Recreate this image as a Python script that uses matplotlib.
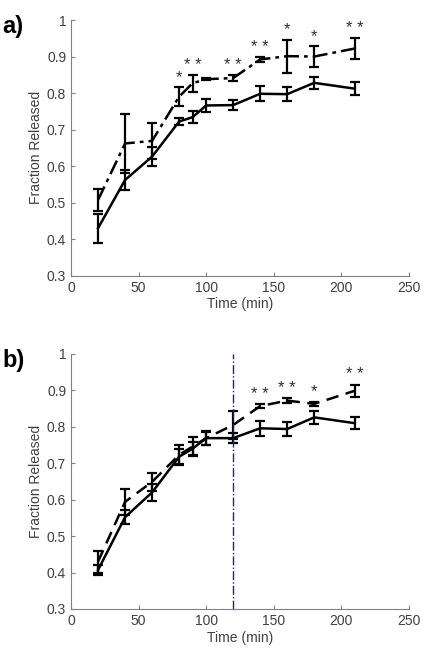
import matplotlib
matplotlib.use('Agg')
import matplotlib.pyplot as plt
import numpy as np

plt.rcParams['font.family'] = ['Liberation Sans', 'DejaVu Sans']

# time points (min)
t = [20, 40, 60, 80, 90, 100, 120, 140, 160, 180, 210]

# panel a
solid_a = [0.430, 0.562, 0.626, 0.722, 0.734, 0.766, 0.767, 0.798, 0.797, 0.828, 0.812]
solid_a_err = [0.040, 0.027, 0.027, 0.010, 0.016, 0.018, 0.013, 0.020, 0.019, 0.017, 0.017]
dash_a = [0.507, 0.662, 0.669, 0.790, 0.827, 0.838, 0.841, 0.892, 0.901, 0.900, 0.922]
dash_a_err = [0.030, 0.081, 0.049, 0.026, 0.023, 0.003, 0.009, 0.006, 0.045, 0.029, 0.028]
stars_a = ['', '', '', '*', '**', '', '**', '**', '*', '*', '**']

# panel b
solid_b = [0.407, 0.552, 0.620, 0.718, 0.740, 0.769, 0.769, 0.796, 0.794, 0.826, 0.810]
solid_b_err = [0.015, 0.020, 0.023, 0.020, 0.018, 0.018, 0.013, 0.020, 0.019, 0.017, 0.017]
dash_b = [0.430, 0.594, 0.649, 0.723, 0.746, 0.769, 0.805, 0.857, 0.872, 0.863, 0.899]
dash_b_err = [0.030, 0.035, 0.025, 0.027, 0.025, 0.020, 0.038, 0.006, 0.006, 0.006, 0.017]
stars_b = ['', '', '', '', '', '', '', '**', '**', '*', '**']

fig = plt.figure(figsize=(4.34, 6.67), dpi=100)
ax_a = fig.add_axes([0.1636, 0.5867, 0.7784, 0.3833])
ax_b = fig.add_axes([0.1636, 0.0870, 0.7784, 0.3823])


def draw_panel(ax, solid, solid_err, dash, dash_err, stars, dash_style):
    ax.errorbar(t, solid, yerr=solid_err, color='black', lw=1.8, elinewidth=1.6,
                capsize=3.5, capthick=1.6)
    eb = ax.errorbar(t, dash, yerr=dash_err, color='black', lw=1.8, elinewidth=1.6,
                     capsize=3.5, capthick=1.6)
    eb[0].set_dashes(dash_style)
    for x, y, e, s in zip(t, dash, dash_err, stars):
        if s:
            ax.text(x, y + e + 0.006, ' '.join(s), ha='center', va='bottom',
                    fontsize=12, color='#303030')
    ax.set_xlim(0, 250)
    ax.set_ylim(0.3, 1.0)
    ax.set_xticks([0, 50, 100, 150, 200, 250])
    ax.set_yticks([0.3, 0.4, 0.5, 0.6, 0.7, 0.8, 0.9, 1.0])
    ax.set_yticklabels(['0.3', '0.4', '0.5', '0.6', '0.7', '0.8', '0.9', '1'])
    ax.tick_params(direction='in', length=3, colors='#808080', labelcolor='#404040',
                   labelsize=10)
    for side in ['top', 'right']:
        ax.spines[side].set_visible(False)
    for side in ['left', 'bottom']:
        ax.spines[side].set_color('#808080')
    ax.set_xlabel('Time (min)', fontsize=10, color='#404040', labelpad=2)
    ax.set_ylabel('Fraction Released', fontsize=10, color='#404040', labelpad=3)


draw_panel(ax_a, solid_a, solid_a_err, dash_a, dash_a_err, stars_a, (6, 2, 1.5, 2))
draw_panel(ax_b, solid_b, solid_b_err, dash_b, dash_b_err, stars_b, (5, 3))
ax_b.axvline(120, color='#1a1ad0', lw=1.0, ls='-.')

fig.text(0.005, 0.978, 'a)', fontsize=17, fontweight='bold', va='top', ha='left')
fig.text(0.005, 0.477, 'b)', fontsize=17, fontweight='bold', va='top', ha='left')

fig.savefig('out.png', dpi=100)
